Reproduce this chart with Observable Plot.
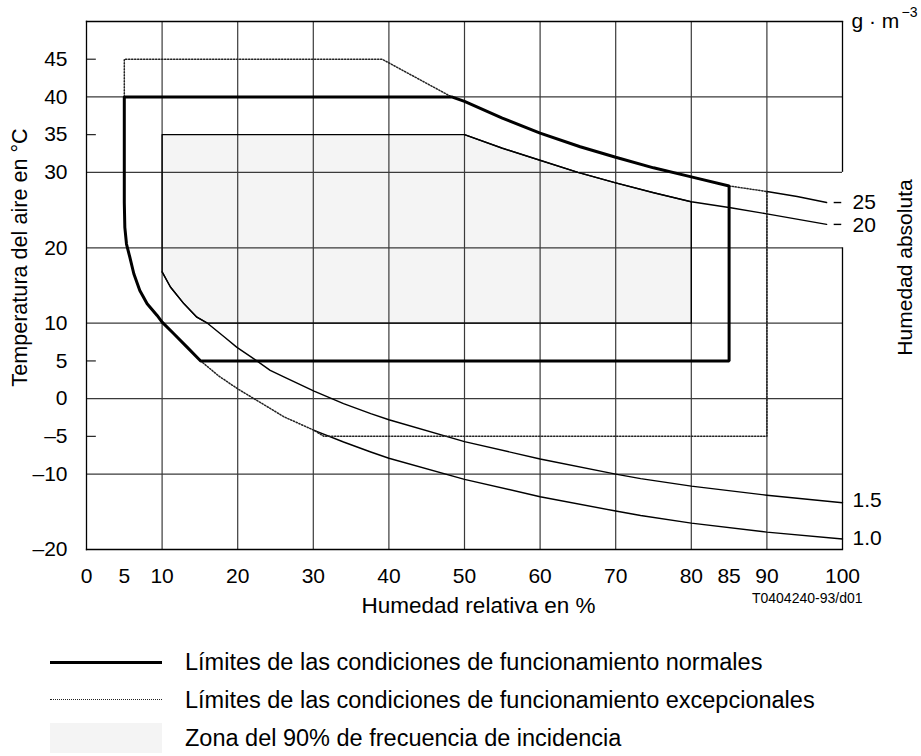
<!DOCTYPE html>
<html>
<head>
<meta charset="utf-8">
<script src="https://cdn.jsdelivr.net/npm/d3@7"></script>
<script src="https://cdn.jsdelivr.net/npm/@observablehq/plot@0.6"></script>
<style>
  html, body { margin: 0; padding: 0; background: #fff; }
  body { width: 921px; height: 756px; position: relative; overflow: hidden;
         font-family: "Liberation Sans", Arial, sans-serif; color: #000; }
  #chart { position: absolute; left: 0; top: 0; }
  .leg { position: absolute; left: 0; top: 0; width: 921px; }
  .row { position: absolute; left: 0; height: 30px; width: 921px; }
  .sw-solid { position: absolute; left: 50px; width: 112px; top: 14px; border-top: 3px solid #000; }
  .sw-dot { position: absolute; left: 50px; width: 112px; top: 14px; border-top: 1.5px dotted #222; }
  .sw-box { position: absolute; left: 50px; width: 112px; top: 0px; height: 30px; background: #f4f4f4; }
  .lt { position: absolute; left: 185px; top: 0; line-height: 30px; font-size: 23.5px; white-space: nowrap; }
</style>
</head>
<body>
<div id="chart"></div>
<div class="leg" id="legend"></div>
<script>
// ---- data ----
const rhTicks = [0, 5, 10, 20, 30, 40, 50, 60, 70, 80, 85, 90, 100];
const tempTicks = [45, 40, 35, 30, 20, 10, 5, 0, -5, -10, -20];
const rhGrid = [10, 20, 30, 40, 50, 60, 70, 80, 90];
const tempGrid = [40, 30, 20, 10, 0, -10];
const tempShortTicks = [45, 35, 5, -5];

// normal operating limits (thick line)
const normalRH = [5, 48.3, 50, 55, 60, 65.3, 70, 75, 80, 85, 85, 15.1, 13.3, 11.55, 10.0, 9.34, 8.02, 7.05, 6.26, 5.73, 5.29, 5.07, 5.0, 5, 20];
const normalT  = [40, 40, 39.4, 37.2, 35.2, 33.4, 32.0, 30.6, 29.4, 28.2, 5, 5, 6.83, 8.6, 10.15, 11.03, 12.58, 14.34, 16.56, 18.75, 20.5, 22.7, 26, 40, 40];

// exceptional operating limits (dotted), two segments
const exceptSeg = ["a", "a", "a", "a", "b", "b", "b", "b", "b", "b", "b", "b", "b", "b"];
const exceptRH  = [5, 5, 39.1, 48.3, 85, 90, 90, 31.4, 30.1, 26.1, 24.3, 20, 17.5, 15.1];
const exceptT   = [40, 45, 45, 40, 28.2, 27.46, -5, -5, -4.2, -2.4, -1.3, 1.3, 3.0, 5];

// 90 % frequency zone (shaded)
const zoneRH = [10, 50, 55, 60, 65, 70, 75, 80, 80, 16, 14.6, 12.87, 11.1, 10, 10];
const zoneT  = [35, 35, 33.2, 31.6, 30.0, 28.6, 27.3, 26.1, 10, 10, 10.8, 12.6, 14.8, 16.8, 35];

// absolute humidity curves (g·m-3)
const ah10RH = [30.1, 34.0, 37.6, 40, 50, 60, 70, 73.3, 80, 90, 100];
const ah10T  = [-4.2, -5.75, -7.07, -7.9, -10.7, -13.0, -14.9, -15.5, -16.5, -17.7, -18.6];
const ah15RH = [10, 11.1, 12.87, 14.6, 16, 18.2, 19.9, 22.1, 24.3, 26.1, 30.1, 34, 37.6, 40, 50, 60, 70, 73.3, 80, 90, 100];
const ah15T  = [16.8, 14.8, 12.6, 10.8, 10, 8.2, 6.8, 5.3, 3.75, 2.9, 1.0, -0.66, -1.99, -2.8, -5.7, -8.0, -10.0, -10.6, -11.6, -12.8, -13.8];
const ah20RH = [50, 55, 60, 65, 70, 75, 80, 85.2, 90, 97.9];
const ah20T  = [35, 33.2, 31.6, 30.0, 28.6, 27.3, 26.1, 25.3, 24.5, 23.1];
const ah25RH = [90, 94, 97.9];
const ah25T  = [27.46, 26.8, 26.0];

const curveLabels = ["25", "20", "1.5", "1.0"];
const curveLabelT = [26.1, 23.0, -13.5, -18.5];
const endDashT = [26.0, 23.1];
// right frame edge is interrupted where the 25 / 20 labels sit
const rightEdgeFrom = [-20, 30];
const rightEdgeTo   = [20, 50];

const legendItems = [
  "Límites de las condiciones de funcionamiento normales",
  "Límites de las condiciones de funcionamiento excepcionales",
  "Zona del 90% de frecuencia de incidencia"
];

// ---- build tables ----
const pts = (xs, ys, extra) => xs.map((x, i) => ({x, y: ys[i], ...(extra ? {z: extra[i]} : {})}));
const normal = pts(normalRH, normalT);
const except = pts(exceptRH, exceptT, exceptSeg);
const zone = pts(zoneRH, zoneT);
const ah10 = pts(ah10RH, ah10T);
const ah15 = pts(ah15RH, ah15T);
const ah20 = pts(ah20RH, ah20T);
const ah25 = pts(ah25RH, ah25T);
const labels = curveLabels.map((t, i) => ({t, y: curveLabelT[i]}));
const rightEdge = rightEdgeFrom.map((y1, i) => ({y1, y2: rightEdgeTo[i]}));

const font = "'Liberation Sans', Arial, sans-serif";

const chart = Plot.plot({
  width: 921,
  height: 625,
  marginLeft: 86,
  marginRight: 79,
  marginTop: 21,
  marginBottom: 76,
  x: {domain: [0, 100]},
  y: {domain: [-20, 50]},
  style: {fontFamily: font, fontSize: "21px", background: "white", color: "black", overflow: "visible"},
  marks: [
    Plot.line(zone, {x: "x", y: "y", fill: "#f4f4f4", stroke: "none"}),
    Plot.ruleX(rhGrid, {stroke: "#3a3a3a", strokeWidth: 1.2}),
    Plot.ruleY(tempGrid, {stroke: "#3a3a3a", strokeWidth: 1.2}),
    Plot.ruleY(tempShortTicks, {x1: 0, x2: 1.3, stroke: "#222", strokeWidth: 1.2}),
    Plot.line(zone, {x: "x", y: "y", stroke: "black", strokeWidth: 1.3}),
    Plot.line(ah10, {x: "x", y: "y", stroke: "black", strokeWidth: 1.4}),
    Plot.line(ah15, {x: "x", y: "y", stroke: "black", strokeWidth: 1.4}),
    Plot.line(ah20, {x: "x", y: "y", stroke: "black", strokeWidth: 1.4}),
    Plot.line(ah25, {x: "x", y: "y", stroke: "black", strokeWidth: 1.4}),
    Plot.line(except, {x: "x", y: "y", z: "z", stroke: "#222", strokeWidth: 1.5, strokeDasharray: "1.3,1.7"}),
    Plot.line(normal, {x: "x", y: "y", stroke: "black", strokeWidth: 3, strokeLinejoin: "miter"}),
    Plot.ruleY(endDashT, {x1: 98.9, x2: 99.9, stroke: "black", strokeWidth: 1.4}),
    Plot.frame({anchor: "top", stroke: "black", strokeWidth: 1.3}),
    Plot.frame({anchor: "bottom", stroke: "black", strokeWidth: 1.3}),
    Plot.frame({anchor: "left", stroke: "black", strokeWidth: 1.3}),
    Plot.ruleX(rightEdge, {x: () => 100, y1: "y1", y2: "y2", stroke: "black", strokeWidth: 1.3}),
    Plot.axisX({ticks: rhTicks, tickSize: 0, tickPadding: 19, label: null, fontSize: 21}),
    Plot.axisY({ticks: tempTicks, tickSize: 0, tickPadding: 19, label: null, fontSize: 21,
                tickFormat: d => d < 0 ? "\u2013" + Math.abs(d) : String(d)}),
    Plot.text(labels, {x: 100, y: "y", text: "t", dx: 10, textAnchor: "start", fontSize: 21}),
    Plot.text(["Humedad relativa en %"], {frameAnchor: "bottom", dx: 14, dy: 56, lineAnchor: "middle", textAnchor: "middle", fontSize: 22.5}),
    Plot.text(["T0404240-93/d01"], {frameAnchor: "bottom-right", dx: 20, dy: 49, lineAnchor: "middle", textAnchor: "end", fontSize: 14}),
    Plot.text(["Temperatura del aire en °C"], {frameAnchor: "left", dx: -66, dy: -28, rotate: -90, textAnchor: "middle", lineAnchor: "middle", fontSize: 21.6}),
    Plot.text(["Humedad absoluta"], {frameAnchor: "right", dx: 63, dy: -18, rotate: -90, textAnchor: "middle", lineAnchor: "middle", fontSize: 21}),
    Plot.text(["g · m"], {frameAnchor: "top-right", dx: 9, dy: 0, textAnchor: "start", lineAnchor: "middle", fontSize: 21}),
    Plot.text(["\u22123"], {frameAnchor: "top-right", dx: 59, dy: -9, textAnchor: "start", lineAnchor: "middle", fontSize: 14})
  ]
});
document.getElementById("chart").appendChild(chart);

// ---- legend (HTML, below the SVG) ----
const legendTops = [647, 685, 723];
const swatchClass = ["sw-solid", "sw-dot", "sw-box"];
const leg = d3.select("#legend");
legendItems.forEach((txt, i) => {
  const row = leg.append("div").attr("class", "row").style("top", legendTops[i] + "px");
  row.append("div").attr("class", swatchClass[i]);
  row.append("div").attr("class", "lt").text(txt);
});
</script>
</body>
</html>
